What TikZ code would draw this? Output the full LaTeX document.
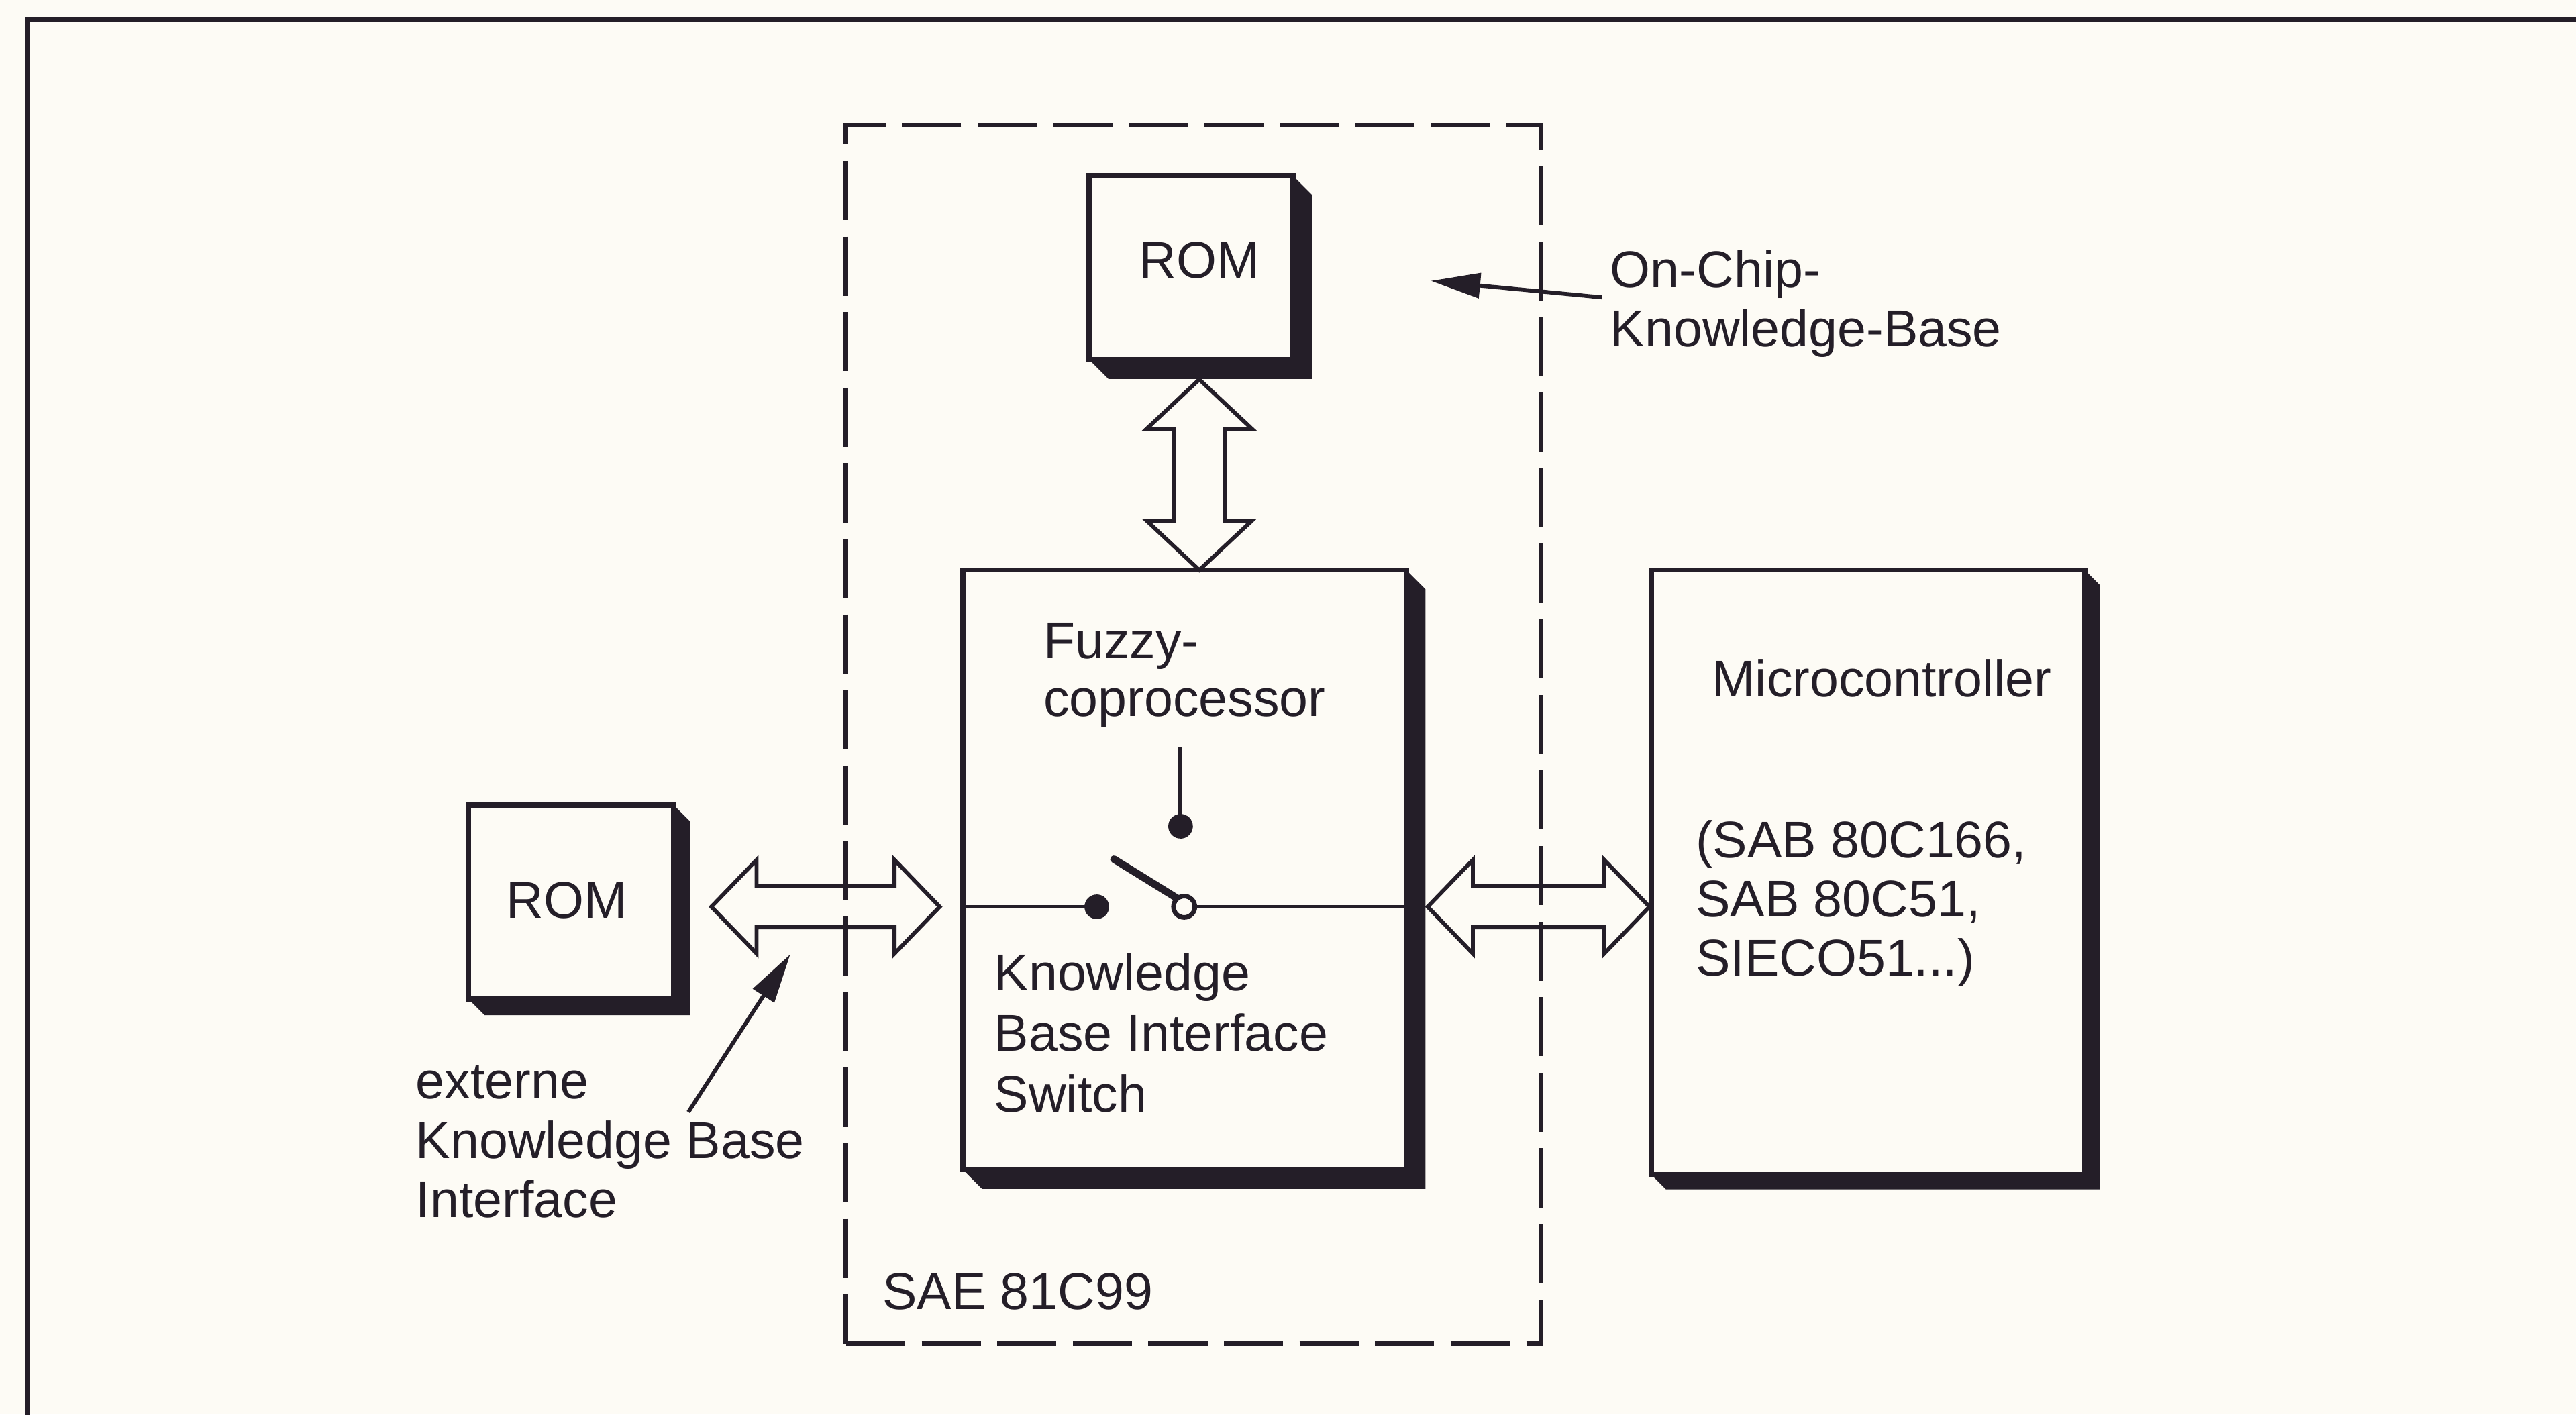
\documentclass[tikz,border=0pt]{standalone}
\usepackage{fontspec}
\setmainfont{Liberation Sans}
\usetikzlibrary{calc,arrows.meta}
\definecolor{ink}{RGB}{36,30,40}
\definecolor{paper}{RGB}{253,251,245}
\newcommand{\boxshade}[2]{\fill[ink] (#1.north east) -- ++(#2,#2) -- ($(#1.south east)+(#2,#2)$) -- ($(#1.south west)+(#2,#2)$) -- (#1.south west) -- (#1.south east) -- cycle;}
\newcommand{\busH}[5]{% from, to, head half width, shaft half width, head length
  \draw[bus] let \p1=(#1), \p2=(#2) in
  (\x1,\y1) -- (\x1+#5,\y1+#3) -- (\x1+#5,\y1+#4) -- (\x2-#5,\y1+#4) -- (\x2-#5,\y1+#3) -- (\x2,\y1)
  -- (\x2-#5,\y1-#3) -- (\x2-#5,\y1-#4) -- (\x1+#5,\y1-#4) -- (\x1+#5,\y1-#3) -- cycle;}
\newcommand{\busV}[5]{% top, bottom
  \draw[bus] let \p1=(#1), \p2=(#2) in
  (\x1,\y1) -- (\x1+#3,\y1-#5) -- (\x1+#4,\y1-#5) -- (\x1+#4,\y2+#5) -- (\x1+#3,\y2+#5) -- (\x1,\y2)
  -- (\x1-#3,\y2+#5) -- (\x1-#4,\y2+#5) -- (\x1-#4,\y1-#5) -- (\x1-#3,\y1-#5) -- cycle;}
\begin{document}
\begin{tikzpicture}[x=1pt,y=-1pt,
  font=\fontsize{31.5}{37}\selectfont,
  frame/.style={draw=ink, line width=2.6pt},
  box/.style={draw=ink, line width=3.2pt, fill=paper, inner sep=0pt, outer sep=0pt, text=ink},
  chipbox/.style={draw=ink, line width=2.8pt, dash pattern=on 36pt off 10pt, inner sep=0pt, outer sep=0pt},
  bus/.style={draw=ink, line width=2.4pt, line join=miter},
  txt/.style={text=ink, inner sep=0pt, anchor=base west},
  lbl/.style={text=ink, inner sep=0pt},
  pointer/.style={draw=ink, line width=2.4pt, -{Triangle[length=30pt,width=15pt]}},
  wire/.style={draw=ink, line width=2.4pt},
  lever/.style={draw=ink, line width=4.5pt, line cap=round},
  dotf/.style={fill=ink, draw=none},
  doto/.style={draw=ink, line width=2.8pt, fill=paper}]
\fill[paper] (0,0) rectangle (1568,861);
\useasboundingbox (0,0) rectangle (1568,861);
\draw[frame] (17,875) -- (17,12) -- (1580,12);

% boxes
\node[box, minimum width=124pt, minimum height=112pt] (romT) at (725,163) {};
\node[lbl] at ($(romT.center)+(5,-4.5)$) {ROM};
\boxshade{romT}{11.7}
\node[box, minimum width=125pt, minimum height=118pt] (romL) at (347.5,549) {};
\node[lbl] at ($(romL.center)+(-2.5,-1)$) {ROM};
\boxshade{romL}{10}
\node[box, minimum width=270pt, minimum height=365pt] (fz) at (721,529.5) {};
\boxshade{fz}{11.7}
\node[box, minimum width=264pt, minimum height=368pt] (mc) at (1137,531) {};
\boxshade{mc}{9}

% bus arrows
\coordinate (vt) at ($(romT.south)+(5,12)$);
\coordinate (vb) at (vt |- fz.north);
\busV{vt}{vb}{32pt}{15.5pt}{30pt}
\coordinate (l1) at ($(romL.east)+(23,3)$);
\coordinate (l2) at ([xshift=-14pt]fz.west |- l1);
\busH{l1}{l2}{28.5pt}{12.5pt}{27.5pt}
\coordinate (r1) at ([xshift=13pt]fz.east |- l1);
\coordinate (r2) at ([xshift=-1pt]mc.west |- l1);
\busH{r1}{r2}{28.5pt}{12.5pt}{27.5pt}

% chip outline
\node[chipbox, minimum width=423pt, minimum height=742pt] (chip) at (726.5,447) {};

% switch
\coordinate (swA) at ($(fz.west |- l1)$);
\coordinate (swB) at ($(fz.east |- l1)$);
\coordinate (dotL) at (667.6,552);
\coordinate (ringR) at (720.8,552);
\coordinate (vtop) at (718.6,455);
\coordinate (dotT) at (718.6,503);
\draw[wire] (swA) -- (dotL);
\draw[wire] ([xshift=7pt]ringR) -- (swB);
\draw[wire] (vtop) -- (dotT);
\fill[dotf] (dotT) circle [radius=7.5pt];
\fill[dotf] (dotL) circle [radius=7.5pt];
\draw[lever] ($(ringR)+(-4,-5)$) -- (678,523);
\draw[doto] (ringR) circle [radius=6.5pt];

% texts
\node[txt] (fz1) at (635,401) {Fuzzy-};
\node[txt] (fz2) at (635,436) {coprocessor};
\node[txt] (kb1) at (605,603) {Knowledge};
\node[txt] (kb2) at (605,640) {Base Interface};
\node[txt] (kb3) at (605,677) {Switch};
\node[txt] (mc1) at (1042,424) {Microcontroller};
\node[txt] (mc2) at (1032,522) {(SAB 80C166,};
\node[txt] (mc3) at (1032,558) {SAB 80C51,};
\node[txt] (mc4) at (1032,594) {SIECO51...)};
\node[txt] (sae) at (537,797) {SAE 81C99};
\node[txt] (oc1) at (980,175) {On-Chip-};
\node[txt] (oc2) at (980,211) {Knowledge-Base};
\node[txt] (ex1) at (253,669) {externe};
\node[txt] (ex2) at (253,705) {Knowledge Base};
\node[txt] (ex3) at (253,741) {Interface};

% pointers
\coordinate (octip) at (871,171);
\draw[pointer] ($(oc1.base west)+(-5,6)$) -- (octip);
\coordinate (extip) at (481,581);
\draw[pointer] ($(ex2.base west)+(166,-28)$) -- (extip);
\end{tikzpicture}
\end{document}
